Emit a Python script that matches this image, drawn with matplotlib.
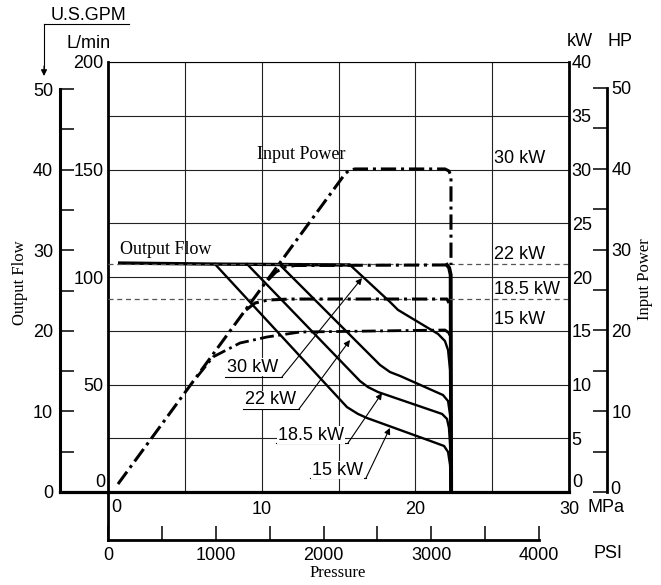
import matplotlib.pyplot as plt

W, H = 661, 585
SANS = 'Liberation Sans'
SERIF = 'Liberation Serif'
FS = 13

plt.rcParams['font.family'] = SANS
plt.rcParams['font.size'] = FS

# ---- data ----
mpa_ticks = [0, 5, 10, 15, 20, 25, 30]
mpa_labels = ['', '', '10', '', '20', '', '30']
lpm_ticks = [0, 25, 50, 75, 100, 125, 150, 175, 200]
lpm_labels = ['', '', '50', '', '100', '', '150', '', '200']
kw_ticks = [0, 5, 10, 15, 20, 25, 30, 35, 40]
kw_labels = ['', '5', '10', '15', '20', '25', '30', '35', '40']
gpm_ticks = [0, 5, 10, 15, 20, 25, 30, 35, 40, 45, 50]
gpm_labels = ['0', '', '10', '', '20', '', '30', '', '40', '', '50']
hp_ticks = [0, 5, 10, 15, 20, 25, 30, 35, 40, 45, 50]
hp_labels = ['', '', '10', '', '20', '', '30', '', '40', '', '50']
psi_ticks = [0, 500, 1000, 1500, 2000, 2500, 3000, 3500, 4000]
psi_labels = ['0', '', '1000', '', '2000', '', '3000', '', '4000']

# output flow plateau and relief drop (MPa, L/min)
flow_p = [0.65, 7.0, 15.75]
flow_q = [106.5, 106.0, 105.6]
relief_p = [22.06, 22.2, 22.3, 22.33]
relief_q = [105.6, 104.3, 101.0, 0.0]

# output flow under power limit (MPa, L/min)
flow15_p = [6.96, 15.55, 16.27, 16.86, 21.15, 21.87, 22.13, 22.26, 22.32]
flow15_q = [106.0, 39.5, 36.3, 34.4, 23.3, 21.4, 18.6, 12.6, 0.0]
flow185_p = [9.05, 16.40, 16.92, 17.57, 21.74, 22.06, 22.19, 22.26, 22.32]
flow185_q = [106.0, 51.6, 48.8, 46.5, 36.3, 34.0, 29.8, 21.9, 0.0]
flow22_p = [11.19, 17.70, 18.35, 19.00, 21.80, 22.13, 22.26, 22.32]
flow22_q = [105.6, 59.1, 55.8, 54.0, 45.1, 42.3, 35.8, 0.0]
flow30_p = [15.75, 18.35, 18.87, 19.52, 21.48, 21.93, 22.13, 22.26, 22.32]
flow30_q = [105.6, 88.4, 84.7, 81.9, 73.5, 70.2, 66.0, 56.7, 0.0]

# input power (MPa, kW)
in30_p = [0.65, 15.42, 15.68, 16.07, 21.93, 22.19, 22.32, 22.32]
in30_kw = [0.74, 29.58, 29.91, 30.05, 30.05, 29.86, 29.40, 21.12]
in22_p = [10.41, 10.93, 11.52, 12.17, 22.06]
in22_kw = [19.72, 20.47, 20.93, 21.07, 21.12]
in185_p = [8.98, 9.57, 10.41, 11.84, 22.06, 22.19]
in185_kw = [16.93, 17.58, 17.86, 17.95, 17.95, 17.58]
in15_p = [5.79, 6.83, 8.59, 10.35, 12.49, 21.93, 22.19, 22.32]
in15_kw = [10.70, 12.56, 13.86, 14.42, 14.88, 15.07, 14.79, 14.14]
ref_kw = [21.2, 18.0]

curve_names = ['30 kW', '22 kW', '18.5 kW', '15 kW']

# ---- layout helpers ----
def box(x0, y0, x1, y1):
    return [x0 / W, 1 - y1 / H, (x1 - x0) / W, (y1 - y0) / H]


def fx(x):
    return x / W


def fy(y):
    return 1 - y / H


fig = plt.figure(figsize=(W / 100, H / 100), dpi=100)
fig.patch.set_facecolor('white')

# main axes: MPa vs L/min
ax = fig.add_axes(box(108, 62, 569, 492))
ax.set_xlim(0, 30)
ax.set_ylim(0, 200)
ax.set_xticks(mpa_ticks)
ax.set_xticklabels(mpa_labels)
ax.set_yticks(lpm_ticks)
ax.set_yticklabels(lpm_labels)
ax.tick_params(length=0)
ax.tick_params(axis='x', pad=6.5)
ax.tick_params(axis='y', pad=3)
ax.grid(True, color='#222222', lw=0.8)
ax.set_axisbelow(True)
ax.spines['left'].set_linewidth(2.0)
ax.spines['bottom'].set_linewidth(2.3)
ax.spines['top'].set_linewidth(0.8)
ax.spines['right'].set_visible(False)
fig.text(fx(116), fy(507), '0', ha='center', va='center')
ax.text(-0.15, 4.6, '0', ha='right', va='center', clip_on=False)
fig.text(fx(606), fy(507), 'MPa', ha='center', va='center')

# kW axis (twin)
axk = ax.twinx()
axk.set_ylim(0, 40)
axk.set_yticks(kw_ticks)
axk.set_yticklabels(kw_labels)
axk.tick_params(length=0, pad=2)
for s in ['left', 'top', 'bottom']:
    axk.spines[s].set_visible(False)
axk.spines['right'].set_linewidth(2.0)
axk.text(30.2, 0.93, '0', ha='left', va='center', clip_on=False)

# U.S.GPM axis
axg = fig.add_axes(box(60, 62, 108, 492))
axg.set_ylim(0, 53.35)
axg.set_xlim(0, 1)
axg.patch.set_visible(False)
for s in ['top', 'right']:
    axg.spines[s].set_visible(False)
axg.spines['left'].set_bounds(0, 50)
axg.spines['left'].set_linewidth(2.2)
axg.spines['bottom'].set_linewidth(2.3)
axg.set_xticks([])
axg.set_yticks(gpm_ticks)
axg.set_yticklabels(gpm_labels)
axg.tick_params(axis='y', direction='in', length=10, width=1.1, pad=5)

# HP axis
axh = fig.add_axes(box(569, 62, 607, 492))
axh.set_ylim(0, 53.2)
axh.patch.set_visible(False)
for s in ['top', 'left', 'bottom']:
    axh.spines[s].set_visible(False)
axh.spines['right'].set_bounds(0, 50)
axh.spines['right'].set_linewidth(2.0)
axh.set_xticks([])
axh.yaxis.tick_right()
axh.set_yticks(hp_ticks)
axh.set_yticklabels(hp_labels)
axh.tick_params(axis='y', direction='in', length=10, width=1.1, pad=3)
fig.text(fx(610), fy(489), '0', ha='left', va='center')

# PSI axis
axp = fig.add_axes(box(108, 492, 569, 540))
axp.set_xlim(0, 4278)
axp.patch.set_visible(False)
for s in ['top', 'right']:
    axp.spines[s].set_visible(False)
axp.spines['bottom'].set_bounds(0, 4000)
axp.spines['bottom'].set_linewidth(2.0)
axp.spines['left'].set_linewidth(2.0)
axp.set_yticks([])
axp.set_xticks(psi_ticks)
axp.set_xticklabels(psi_labels)
axp.tick_params(axis='x', direction='in', length=10, width=1.1, pad=5)

# ---- curves ----
ax.plot(flow_p, flow_q, color='k', lw=2.4, solid_capstyle='butt')
for p, q in [(flow15_p, flow15_q), (flow185_p, flow185_q),
             (flow22_p, flow22_q), (flow30_p, flow30_q)]:
    ax.plot(p, q, color='k', lw=1.7)
ax.plot(relief_p, relief_q, color='k', lw=2.8)

DD = (0, (5, 1.6, 1, 1.6))
for v in ref_kw:
    axk.axhline(v, color='#555555', lw=0.9, ls=(0, (4, 3)))
axk.plot(in30_p, in30_kw, color='k', lw=2.2, ls=DD)
axk.plot(in22_p, in22_kw, color='k', lw=2.2, ls=DD)
axk.plot(in185_p, in185_kw, color='k', lw=2.2, ls=DD)
axk.plot(in15_p, in15_kw, color='k', lw=2.0, ls=DD)

# ---- labels ----
ax.text(0.78, 112.6, 'Output Flow', family=SERIF, fontsize=FS, va='center')
axk.text(9.7, 31.35, 'Input Power', family=SERIF, fontsize=FS, va='center')
for name, ky in zip(curve_names, [30.98, 22.05, 18.88, 16.0]):
    axk.text(25.12, ky, name, va='center', ha='left')

# leader labels: text x, text y, underline x0, x1, y, arrow tip (MPa, L/min)
leaders = [
    (7.74, 58.1, 7.61, 11.32, 53.5, 16.53, 99.5),
    (8.92, 42.8, 8.79, 12.43, 38.6, 15.75, 70.7),
    (11.06, 26.5, 10.93, 15.62, 22.8, 17.83, 46.0),
    (13.28, 10.2, 13.15, 16.79, 6.5, 18.35, 29.8),
]
for name, (tx, ty, ux0, ux1, uy, ax_, ay_) in zip(curve_names, leaders):
    ax.text(tx, ty, name, va='center', ha='left',
            bbox=dict(fc='white', ec='none', pad=0.6))
    ax.plot([ux0, ux1], [uy, uy], color='k', lw=0.8)
    ax.annotate('', xy=(ax_, ay_), xytext=(ux1, uy),
                arrowprops=dict(arrowstyle='-|>', lw=0.8, color='k',
                                mutation_scale=9, shrinkA=0, shrinkB=0))

# axis titles
fig.text(fx(88), fy(15), 'U.S.GPM', ha='center', va='center')
fig.add_artist(plt.Line2D([fx(44), fx(129)], [fy(24), fy(24)], color='k', lw=0.8))
fig.add_artist(plt.Line2D([fx(44), fx(44)], [fy(24), fy(68)], color='k', lw=0.8))
ax.annotate('', xy=(fx(44), fy(76)), xytext=(fx(44), fy(66)), xycoords='figure fraction',
            textcoords='figure fraction',
            arrowprops=dict(arrowstyle='-|>', lw=0.8, color='k', mutation_scale=9,
                            shrinkA=0, shrinkB=0))
fig.text(fx(89), fy(43), 'L/min', ha='center', va='center')
fig.text(fx(580), fy(42), 'kW', ha='center', va='center')
fig.text(fx(620), fy(42), 'HP', ha='center', va='center')
fig.text(fx(608), fy(553), 'PSI', ha='center', va='center')
fig.text(fx(338), fy(573), 'Pressure', family=SERIF, fontsize=12, ha='center', va='center')
fig.text(fx(20), fy(283), 'Output Flow', family=SERIF, fontsize=12, rotation=90,
         ha='center', va='center')
fig.text(fx(645), fy(279), 'Input Power', family=SERIF, fontsize=12, rotation=90,
         ha='center', va='center')

fig.savefig('out.png', dpi=100, facecolor='white')
